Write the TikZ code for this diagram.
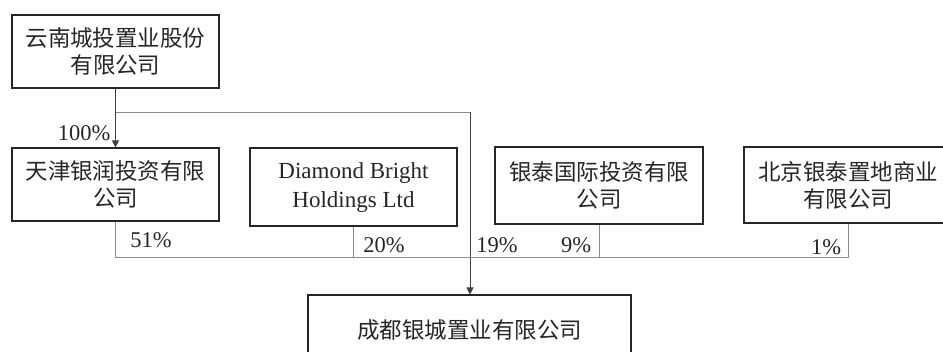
\documentclass[tikz,border=0pt]{standalone}
\usepackage{fontspec}
\setmainfont{Liberation Serif}
\newfontfamily\cjk{Noto Sans CJK SC}
\usetikzlibrary{arrows.meta,calc}
\tikzset{
  box/.style={draw=black!85, line width=1.1pt, rectangle, inner sep=0pt, align=center,
     text=black!85, font=\fontsize{22.5}{27}\selectfont\cjk},
  ebox/.style={box, font=\fontsize{23}{29}\selectfont},
  conn/.style={draw=black!45, line width=0.9pt},
  arr/.style={draw=black!75, line width=0.9pt, -{Triangle[length=7pt,width=7pt]}},
  pct/.style={inner sep=0pt, text=black!85, font=\fontsize{22.5}{24}\selectfont}
}
\begin{document}
\begin{tikzpicture}[x=1pt,y=-1pt]
\useasboundingbox (0,0) rectangle (943,351);
\node[box, minimum width=207pt, minimum height=73pt] (b1) at (115.5,51.5) {云南城投置业股份\\有限公司};
\node[box, minimum width=207pt, minimum height=73pt] (b2) at (115.5,184.5) {天津银润投资有限\\公司};
\node[ebox, minimum width=207pt, minimum height=78pt] (b3) at (353.5,187) {Diamond Bright\\Holdings Ltd};
\node[box, minimum width=208pt, minimum height=77pt] (b4) at (599,185.5) {银泰国际投资有限\\公司};
\node[box, minimum width=208pt, minimum height=76pt] (b5) at (848,185) {北京银泰置地商业\\有限公司};
\node[box, minimum width=323pt, minimum height=70pt] (b6) at (469.5,330) {成都银城置业有限公司};
\coordinate (t1) at (116,112);
\coordinate (bus) at (0,257);
\coordinate (drop) at (470,112);
% top connectors
\draw[conn] (t1) -- (drop);
\draw[arr] (b1.south) -- (b2.north);
\draw[arr] (drop) -- (drop |- b6.north);
% bottom bus
\draw[conn] (b2.south) |- (b5.south |- bus) -- (b5.south);
\draw[conn] (b3.south) -- (b3.south |- bus);
\draw[conn] (b4.south) -- (b4.south |- bus);
% labels
\node[pct] (p100) at (84,133) {100\%};
\node[pct] (p51) at (151,240) {51\%};
\node[pct] (p20) at (384,245) {20\%};
\node[pct] (p19) at (497,245) {19\%};
\node[pct] (p9) at (576,245) {9\%};
\node[pct] (p1) at (826,247) {1\%};
\end{tikzpicture}
\end{document}
